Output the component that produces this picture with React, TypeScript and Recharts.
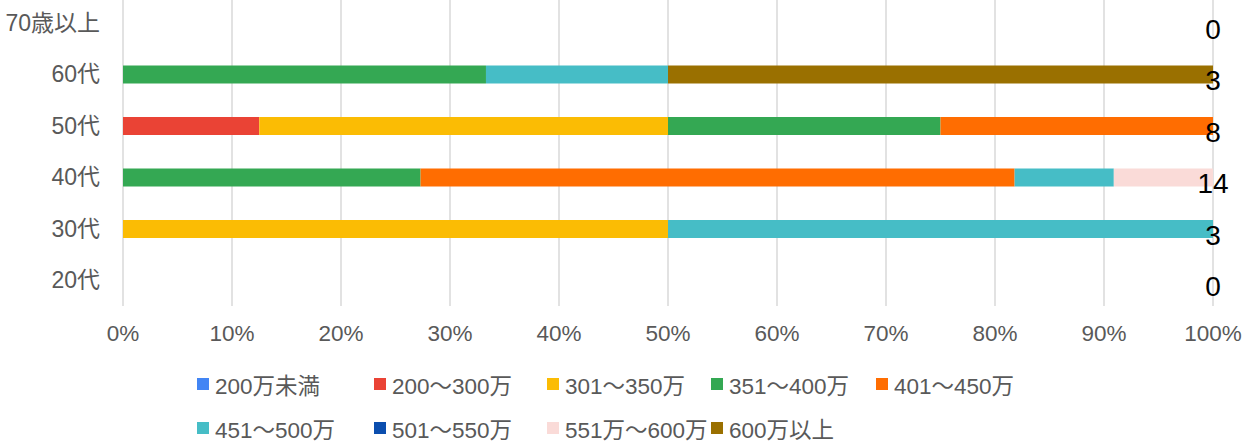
import React from 'react';
import { BarChart, Bar, XAxis, YAxis, CartesianGrid } from 'recharts';

const FONT = '"Liberation Sans", Arial, "Noto Sans CJK JP", sans-serif';

const categories = ['70歳以上', '60代', '50代', '40代', '30代', '20代'];
const totals = [0, 3, 8, 14, 3, 0];

// percentage share per category (same order as categories)
const under200 = [0, 0, 0, 0, 0, 0];
const r200_300 = [0, 0, 12.5, 0, 0, 0];
const r301_350 = [0, 0, 37.5, 0, 50, 0];
const r351_400 = [0, 33.3, 25, 27.3, 0, 0];
const r401_450 = [0, 0, 25, 54.5, 0, 0];
const r451_500 = [0, 16.7, 0, 9.1, 50, 0];
const r501_550 = [0, 0, 0, 0, 0, 0];
const r551_600 = [0, 0, 0, 9.1, 0, 0];
const over600 = [0, 50, 0, 0, 0, 0];

const xTicks = [0, 10, 20, 30, 40, 50, 60, 70, 80, 90, 100];

const seriesDefs = [
  { key: 's0', name: '200万未満', values: under200, color: '#4285F4' },
  { key: 's1', name: '200〜300万', values: r200_300, color: '#EA4335' },
  { key: 's2', name: '301〜350万', values: r301_350, color: '#FBBC04' },
  { key: 's3', name: '351〜400万', values: r351_400, color: '#34A853' },
  { key: 's4', name: '401〜450万', values: r401_450, color: '#FF6D01' },
  { key: 's5', name: '451〜500万', values: r451_500, color: '#46BDC6' },
  { key: 's6', name: '501〜550万', values: r501_550, color: '#0B4EAE' },
  { key: 's7', name: '551万〜600万', values: r551_600, color: '#FADBD8' },
  { key: 's8', name: '600万以上', values: over600, color: '#9A7000' },
];

const data = categories.map((cat, i) => {
  const row: Record<string, any> = { cat, total: totals[i] };
  seriesDefs.forEach((s) => {
    row[s.key] = s.values[i];
  });
  return row;
});

const TotalTick = (props: any) => {
  const { x, y, payload } = props;
  const idx = props.index ?? payload?.index ?? 0;
  return (
    <text x={x} y={y + 16} textAnchor="middle" fontSize={28} fill="#000" fontFamily={FONT}>
      {totals[idx]}
    </text>
  );
};

const legendCols = [177, 173, 164, 165, 180];

export default function App() {
  return (
    <div style={{ position: 'absolute', left: 0, top: 0, width: 1260, height: 443, background: '#fff', fontFamily: FONT }}>
      <BarChart
        width={1260}
        height={443}
        data={data}
        layout="vertical"
        margin={{ top: -3, right: 46, bottom: 107, left: 0 }}
        barSize={18}
      >
        <CartesianGrid horizontal={false} stroke="#d9d9d9" strokeWidth={1.5} />
        <XAxis
          type="number"
          domain={[0, 100]}
          ticks={xTicks}
          tickFormatter={(v: number) => `${v}%`}
          axisLine={false}
          tickLine={false}
          tickSize={0}
          tickMargin={19}
          height={30}
          tick={{ fill: '#595959', fontSize: 22.5, fontFamily: FONT }}
        />
        <YAxis
          type="category"
          dataKey="cat"
          width={123}
          axisLine={false}
          tickLine={false}
          tickSize={0}
          tickMargin={23}
          tick={{ fill: '#595959', fontSize: 23, fontFamily: FONT }}
        />
        <YAxis
          yAxisId="r"
          orientation="right"
          type="category"
          dataKey="cat"
          width={1}
          axisLine={false}
          tickLine={false}
          tickSize={0}
          tickMargin={0}
          interval={0}
          tick={<TotalTick />}
        />
        {seriesDefs.map((s) => (
          <Bar key={s.key} dataKey={s.key} name={s.name} stackId="a" fill={s.color} isAnimationActive={false} />
        ))}
      </BarChart>
      <div
        style={{
          position: 'absolute',
          left: 197,
          top: 362,
          display: 'grid',
          gridTemplateColumns: legendCols.map((c) => `${c}px`).join(' '),
          gridAutoRows: '44px',
          fontSize: 22.5,
          color: '#595959',
          fontFamily: FONT,
        }}
      >
        {seriesDefs.map((s) => (
          <div key={s.key} style={{ display: 'flex', alignItems: 'center', whiteSpace: 'nowrap' }}>
            <span style={{ display: 'inline-block', width: 12, height: 12, background: s.color, marginRight: 6, flexShrink: 0 }} />
            <span>{s.name}</span>
          </div>
        ))}
      </div>
    </div>
  );
}
